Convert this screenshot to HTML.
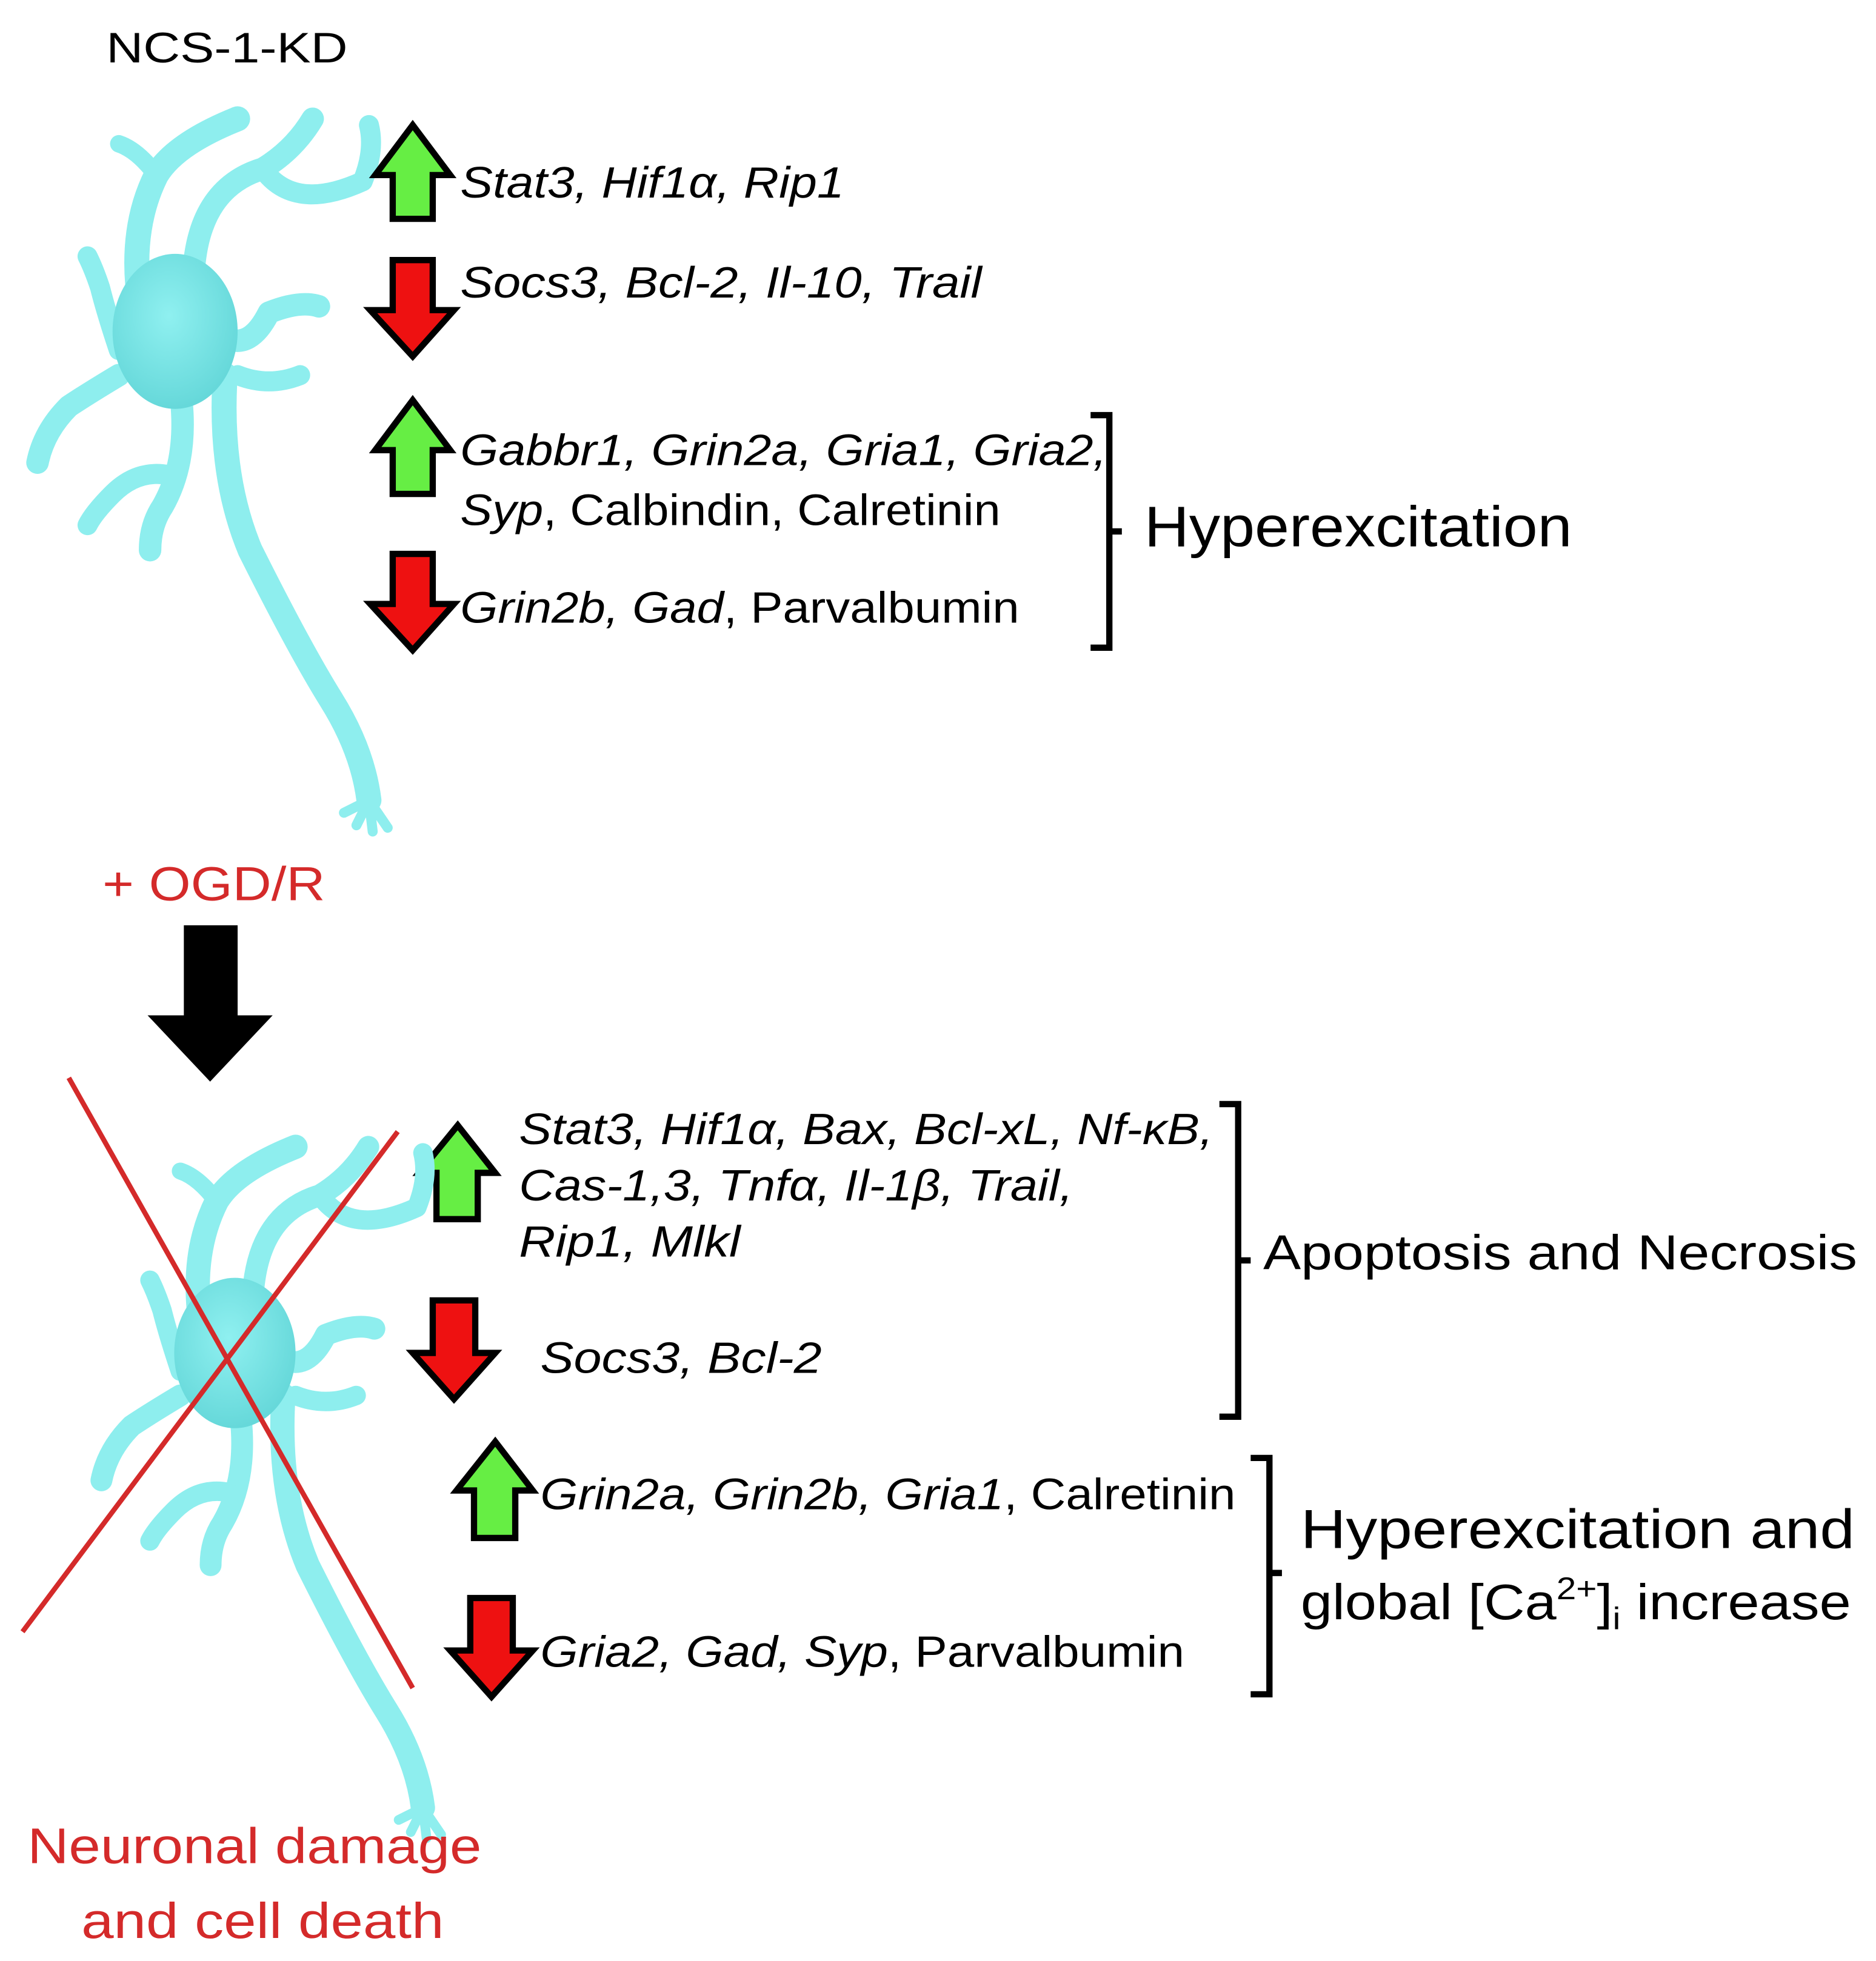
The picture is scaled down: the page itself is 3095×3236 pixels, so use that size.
<!DOCTYPE html>
<html><head><meta charset="utf-8"><style>
html,body{margin:0;padding:0;background:#fff}
svg{display:block}
text{font-family:"Liberation Sans",sans-serif}
</style></head><body>
<svg width="3095" height="3236" viewBox="0 0 1500 1568.3" xmlns="http://www.w3.org/2000/svg">
<defs>
<radialGradient id="cb" cx="0.45" cy="0.4" r="0.7"><stop offset="0" stop-color="#8ff0f0"/><stop offset="1" stop-color="#5fd4d6"/></radialGradient>
<g id="neuron" fill="none" stroke="#8eeeee" stroke-linecap="round" stroke-linejoin="round">
  <path d="M115 260 Q100 190 125 140 Q140 115 190 95" stroke-width="20"/>
  <path d="M125 140 Q110 120 95 115" stroke-width="14"/>
  <path d="M155 215 Q160 150 210 135 Q235 120 250 95" stroke-width="18"/>
  <path d="M210 135 Q235 170 290 145 Q300 120 295 100" stroke-width="16"/>
  <path d="M95 280 Q85 250 80 230 Q75 215 70 205" stroke-width="16"/>
  <path d="M95 300 Q70 315 55 325 Q35 345 30 370" stroke-width="18"/>
  <path d="M180 270 Q200 280 215 250 Q240 240 255 245" stroke-width="18"/>
  <path d="M190 300 Q215 310 240 300" stroke-width="16"/>
  <path d="M145 320 Q150 370 130 405 Q120 420 120 440" stroke-width="18"/>
  <path d="M135 380 Q110 375 90 395 Q75 410 70 420" stroke-width="16"/>
  <path d="M180 300 Q175 380 200 440 Q240 520 265 560 Q290 600 295 640" stroke-width="20"/>
  <path d="M295 640 L285 660 M295 640 L298 665 M295 640 L310 662 M295 640 L275 650" stroke-width="8"/>
  <ellipse cx="140" cy="265" rx="50" ry="62" fill="url(#cb)" stroke="none"/>
</g>
</defs>
<text x="85" y="50" font-size="34" textLength="193" lengthAdjust="spacingAndGlyphs">NCS-1-KD</text>
<use href="#neuron"/>
<g stroke="#000" stroke-width="5" stroke-linejoin="miter">
<path d="M314 175 V140 H300 L330 100 L360 140 H346 V175 Z" fill="#66ee44"/>
<path d="M314 208 V248 H296 L330 285 L363 248 H346 V208 Z" fill="#ee1111"/>
<path d="M314 395 V360 H300 L330 320 L360 360 H346 V395 Z" fill="#66ee44"/>
<path d="M314 443 V483 H296 L330 520 L363 483 H346 V443 Z" fill="#ee1111"/>
<path d="M349 975 V938 H335 L366 900 L396 938 H382 V975 Z" fill="#66ee44"/>
<path d="M346 1040 V1082 H330 L363 1119 L396 1082 H380 V1040 Z" fill="#ee1111"/>
<path d="M379 1230 V1192 H365 L396 1153 L426 1192 H412 V1230 Z" fill="#66ee44"/>
<path d="M376 1278 V1320 H360 L393 1357 L426 1320 H410 V1278 Z" fill="#ee1111"/>
</g>
<g font-size="35" font-style="italic" lengthAdjust="spacingAndGlyphs">
<text x="368" y="158" textLength="307" lengthAdjust="spacingAndGlyphs">Stat3, Hif1α, Rip1</text>
<text x="368" y="238" textLength="417" lengthAdjust="spacingAndGlyphs">Socs3, Bcl-2, Il-10, Trail</text>
<text x="368" y="372" textLength="517" lengthAdjust="spacingAndGlyphs">Gabbr1, Grin2a, Gria1, Gria2,</text>
<text x="368" y="420" textLength="432" lengthAdjust="spacingAndGlyphs">Syp<tspan font-style="normal">, Calbindin, Calretinin</tspan></text>
<text x="368" y="498" textLength="447" lengthAdjust="spacingAndGlyphs">Grin2b, Gad<tspan font-style="normal">, Parvalbumin</tspan></text>
<text x="415" y="915" textLength="555" lengthAdjust="spacingAndGlyphs">Stat3, Hif1α, Bax, Bcl-xL, Nf-κB,</text>
<text x="415" y="960" textLength="443" lengthAdjust="spacingAndGlyphs">Cas-1,3, Tnfα, Il-1β, Trail,</text>
<text x="415" y="1005" textLength="177" lengthAdjust="spacingAndGlyphs">Rip1, Mlkl</text>
<text x="432" y="1098" textLength="225" lengthAdjust="spacingAndGlyphs">Socs3, Bcl-2</text>
<text x="432" y="1207" textLength="556" lengthAdjust="spacingAndGlyphs">Grin2a, Grin2b, Gria1<tspan font-style="normal">, Calretinin</tspan></text>
<text x="432" y="1333" textLength="515" lengthAdjust="spacingAndGlyphs">Gria2, Gad, Syp<tspan font-style="normal">, Parvalbumin</tspan></text>
</g>
<g fill="none" stroke="#000" stroke-width="5">
<path d="M872 332 H887 V518 H872 M887 425 H897"/>
<path d="M975 883 H990 V1133 H975 M990 1008 H1000"/>
<path d="M1000 1166 H1015 V1355 H1000 M1015 1258 H1025"/>
</g>
<text x="915" y="437" font-size="46" textLength="342" lengthAdjust="spacingAndGlyphs">Hyperexcitation</text>
<text x="1010" y="1015" font-size="39" textLength="475" lengthAdjust="spacingAndGlyphs">Apoptosis and Necrosis</text>
<text x="1040" y="1238" font-size="44" textLength="443" lengthAdjust="spacingAndGlyphs">Hyperexcitation and</text>
<text x="1040" y="1295" font-size="40" textLength="440" lengthAdjust="spacingAndGlyphs">global [Ca<tspan font-size="25" dy="-16">2+</tspan><tspan dy="16">]</tspan><tspan font-size="25" dy="8">i</tspan><tspan dy="-8"> increase</tspan></text>
<text x="82" y="720" font-size="38" fill="#d42a2a" textLength="178" lengthAdjust="spacingAndGlyphs">+ OGD/R</text>
<path d="M147 740 H190 V812 H218 L168 865 L118 812 H147 Z" fill="#000"/>
<use href="#neuron" transform="translate(52,825) scale(0.97)"/>
<g stroke="#d42a2a" stroke-width="4">
<line x1="55" y1="862" x2="330" y2="1350"/>
<line x1="318" y1="905" x2="18" y2="1305"/>
</g>
<text x="22" y="1490" font-size="40" fill="#d42a2a" textLength="363" lengthAdjust="spacingAndGlyphs">Neuronal damage</text>
<text x="65" y="1550" font-size="40" fill="#d42a2a" textLength="290" lengthAdjust="spacingAndGlyphs">and cell death</text>
</svg>
</body></html>
